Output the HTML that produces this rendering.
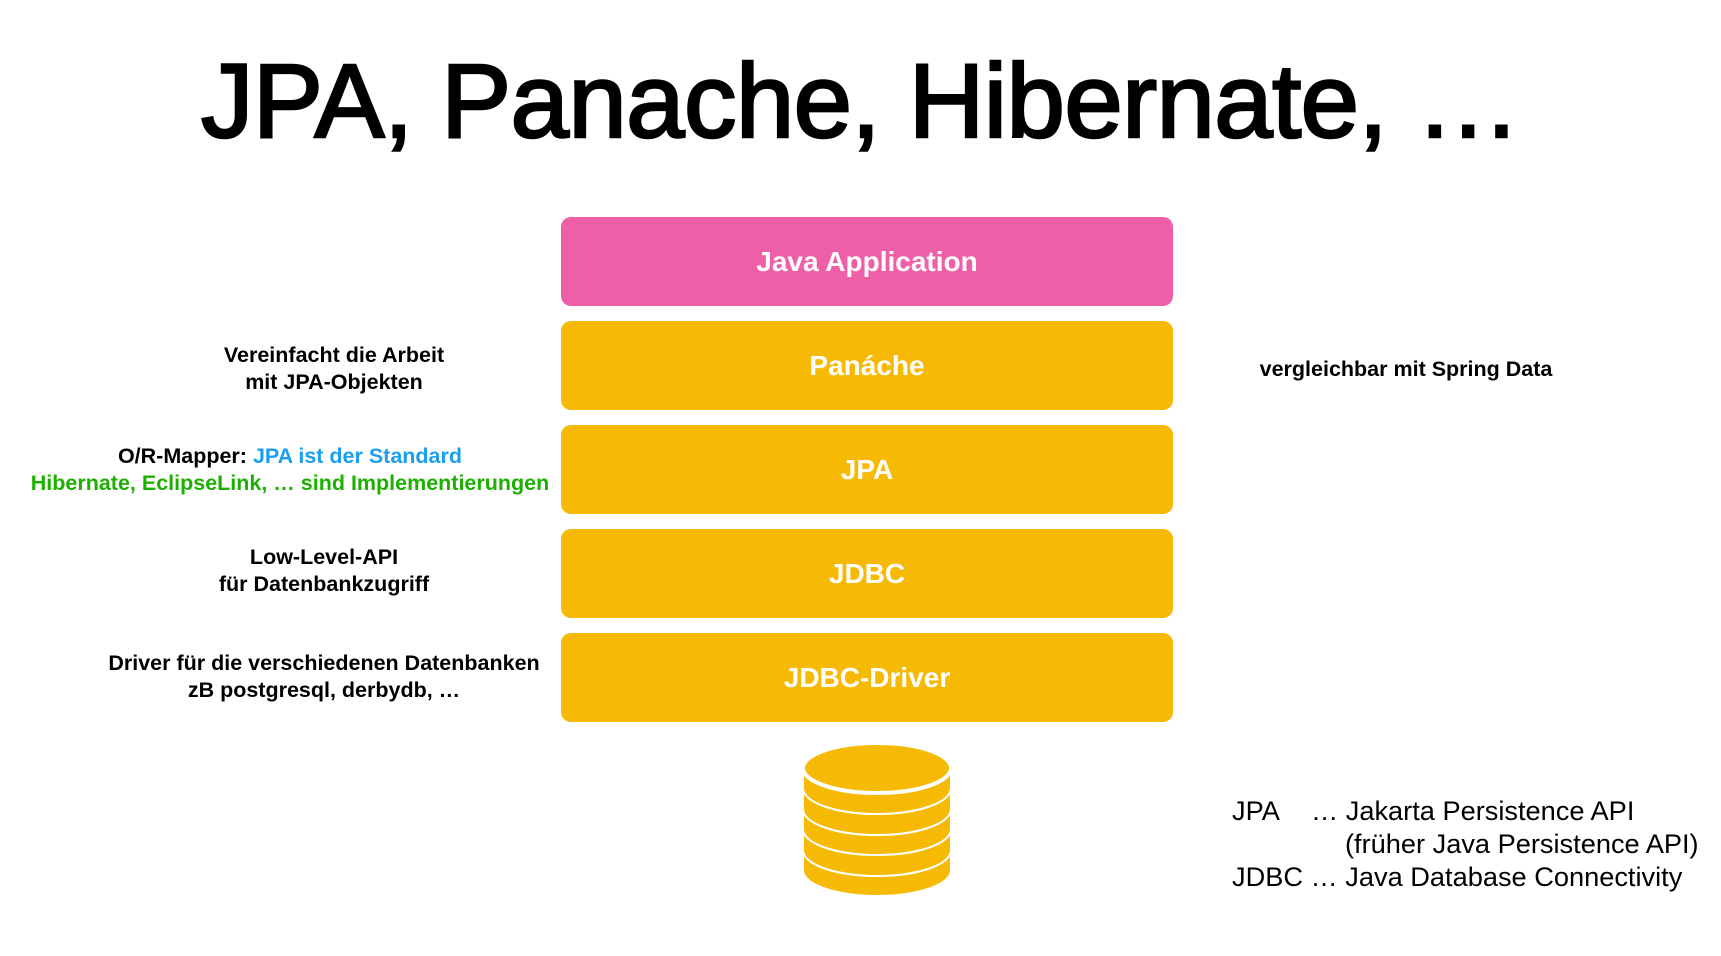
<!DOCTYPE html>
<html><head><meta charset="utf-8"><style>
body{margin:0;width:1721px;height:956px;background:#fff;position:relative;overflow:hidden;font-family:"Liberation Sans",sans-serif}
.t{position:absolute;white-space:nowrap}
.title{left:0;width:1721px;text-align:center;top:42px;font-size:105px;font-weight:normal;-webkit-text-stroke:2.5px #000;letter-spacing:-0.6px;color:#000}
.box{position:absolute;left:561px;width:612px;height:89px;border-radius:10px;background:#F6B904;color:#fff;font-weight:bold;font-size:28px;display:flex;align-items:center;justify-content:center}
.l{position:absolute;text-align:center;font-weight:bold;font-size:21.5px;line-height:27px;white-space:nowrap;transform:translateX(-50%)}
.r{position:absolute;font-size:27.2px;white-space:nowrap}
</style></head><body>
<div class="t title">JPA, Panache, Hibernate, …</div>
<div class="box" style="top:217px;background:#EF5FA7">Java Application</div>
<div class="box" style="top:321px">Panáche</div>
<div class="box" style="top:425px">JPA</div>
<div class="box" style="top:529px">JDBC</div>
<div class="box" style="top:633px">JDBC-Driver</div>
<div class="l" style="left:334px;top:342px">Vereinfacht die Arbeit<br>mit JPA-Objekten</div>
<div class="l" style="left:290px;top:443px">O/R-Mapper: <span style="color:#1A9FF0">JPA ist der Standard</span><br><span style="color:#1DB000">Hibernate, EclipseLink, … sind Implementierungen</span></div>
<div class="l" style="left:324px;top:544px">Low-Level-API<br>für Datenbankzugriff</div>
<div class="l" style="left:324px;top:650px">Driver für die verschiedenen Datenbanken<br>zB postgresql, derbydb, …</div>
<div class="l" style="left:1406px;top:356px">vergleichbar mit Spring Data</div>
<div class="r" style="left:1232px;top:795px">JPA</div>
<div class="r" style="left:1311px;top:795px">… Jakarta Persistence API</div>
<div class="r" style="left:1345px;top:828px">(früher Java Persistence API)</div>
<div class="r" style="left:1232px;top:861px">JDBC … Java Database Connectivity</div>
<svg style="position:absolute;left:0;top:0" width="1721" height="956">
<g fill="#F6B904">
<path d="M804 848 V870 A73 25 0 0 0 950 870 V848 Z"/>
<path d="M804 850 A73 25 0 0 0 950 850" fill="none" stroke="#fff" stroke-width="4"/>
<path d="M804 827 V850 A73 25 0 0 0 950 850 V827 Z"/>
<path d="M804 829 A73 25 0 0 0 950 829" fill="none" stroke="#fff" stroke-width="4"/>
<path d="M804 807 V829 A73 25 0 0 0 950 829 V807 Z"/>
<path d="M804 809 A73 25 0 0 0 950 809" fill="none" stroke="#fff" stroke-width="4"/>
<path d="M804 786 V809 A73 25 0 0 0 950 809 V786 Z"/>
<path d="M804 788 A73 25 0 0 0 950 788" fill="none" stroke="#fff" stroke-width="4"/>
<path d="M804 770 V788 A73 25 0 0 0 950 788 V770 Z"/>
<ellipse cx="877" cy="768" rx="74" ry="25" stroke="#fff" stroke-width="4"/>
</g>
</svg>
</body></html>
